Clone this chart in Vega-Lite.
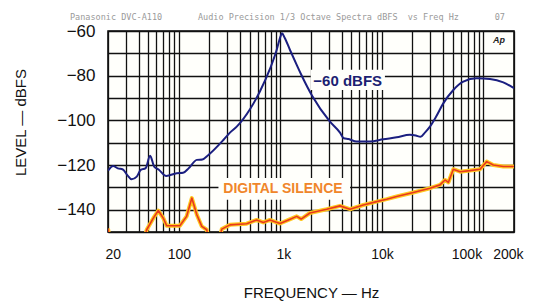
{
  "$schema": "https://vega.github.io/schema/vega-lite/v6.json",
  "width": 406,
  "height": 201,
  "autosize": {"type": "none"},
  "padding": {"left": 108, "top": 31, "right": 19, "bottom": 71},
  "background": "#ffffff",
  "title": {
    "text": "Panasonic DVC-A110\u00a0\u00a0\u00a0\u00a0\u00a0\u00a0\u00a0Audio Precision 1/3 Octave Spectra dBFS\u00a0\u00a0vs Freq Hz\u00a0\u00a0\u00a0\u00a0\u00a0\u00a0\u00a007",
    "anchor": "start",
    "frame": "group",
    "dx": -38,
    "dy": 10,
    "offset": 11,
    "font": "DejaVu Sans Mono",
    "fontSize": 8.5,
    "fontWeight": "normal",
    "color": "#9a9a9a"
  },
  "config": {
    "font": "Liberation Sans",
    "view": {"stroke": "#000000", "strokeWidth": 1.5, "fill": "#fffffb"}
  },
  "datasets": {
    "level": [
      {"f": 20, "v": -122.5}, {"f": 22.5, "v": -120.4}, {"f": 25, "v": -121.5}, {"f": 28, "v": -122}, {"f": 31, "v": -124.5},
      {"f": 34.2, "v": -126.4}, {"f": 38.4, "v": -125.2}, {"f": 42, "v": -122.2}, {"f": 47, "v": -121.4}, {"f": 52, "v": -115.9},
      {"f": 57, "v": -120.7}, {"f": 63, "v": -122}, {"f": 75, "v": -124.9}, {"f": 95, "v": -123.7}, {"f": 110, "v": -123.5},
      {"f": 125, "v": -121.4}, {"f": 150, "v": -117.7}, {"f": 170, "v": -117.5}, {"f": 195, "v": -115.5}, {"f": 274, "v": -108.8},
      {"f": 318, "v": -105.5}, {"f": 371, "v": -102.8}, {"f": 501, "v": -95}, {"f": 629, "v": -87}, {"f": 788, "v": -77},
      {"f": 918, "v": -68.5}, {"f": 1000, "v": -62.5}, {"f": 1035, "v": -61}, {"f": 1100, "v": -63}, {"f": 1242, "v": -68.5},
      {"f": 1446, "v": -75.2}, {"f": 1600, "v": -79.5}, {"f": 2050, "v": -89}, {"f": 3076, "v": -100.6}, {"f": 3862, "v": -105.5},
      {"f": 4200, "v": -108}, {"f": 4700, "v": -108.4}, {"f": 5634, "v": -109.5}, {"f": 7620, "v": -109.5}, {"f": 10300, "v": -108.5},
      {"f": 13960, "v": -107.6}, {"f": 18880, "v": -106.5}, {"f": 21500, "v": -106.8}, {"f": 24000, "v": -107.4}, {"f": 26500, "v": -105.5},
      {"f": 29700, "v": -102.8}, {"f": 34000, "v": -98.5}, {"f": 40200, "v": -92.4}, {"f": 50500, "v": -86.4}, {"f": 63300, "v": -82.7},
      {"f": 85700, "v": -81.2}, {"f": 116000, "v": -81.5}, {"f": 157000, "v": -83}, {"f": 200000, "v": -85.6}
    ],
    "silence": [
      {"f": 20, "v": -148.5}, {"f": 21.3, "v": -156}, {"f": 44, "v": -156}, {"f": 48.1, "v": -149}, {"f": 55.9, "v": -143.8},
      {"f": 62.6, "v": -140.4}, {"f": 70.1, "v": -143.8}, {"f": 75.7, "v": -147.2}, {"f": 102, "v": -147.2}, {"f": 119, "v": -143},
      {"f": 134, "v": -134.8}, {"f": 150, "v": -142.3}, {"f": 168, "v": -147.5}, {"f": 188, "v": -149}, {"f": 200, "v": -156},
      {"f": 243, "v": -156}, {"f": 264, "v": -148.7}, {"f": 318, "v": -146.8}, {"f": 465, "v": -146.3}, {"f": 583, "v": -144.6},
      {"f": 678, "v": -145.7}, {"f": 788, "v": -144.6}, {"f": 990, "v": -146.2}, {"f": 1200, "v": -144.6}, {"f": 1446, "v": -143},
      {"f": 1600, "v": -144.2}, {"f": 1950, "v": -141.5}, {"f": 2856, "v": -139.8}, {"f": 3862, "v": -138.3}, {"f": 4843, "v": -139.8},
      {"f": 6547, "v": -137.9}, {"f": 8876, "v": -136.4}, {"f": 11140, "v": -135.3}, {"f": 13960, "v": -134.1}, {"f": 20400, "v": -132.3},
      {"f": 29700, "v": -130.4}, {"f": 37300, "v": -128.9}, {"f": 41800, "v": -126.7}, {"f": 45100, "v": -127.8}, {"f": 50500, "v": -121.9},
      {"f": 58800, "v": -123}, {"f": 73800, "v": -122.5}, {"f": 92500, "v": -121.9}, {"f": 107700, "v": -118.5}, {"f": 125000, "v": -120},
      {"f": 157000, "v": -120.7}, {"f": 200000, "v": -120.7}
    ],
    "one": [{}]
  },
  "layer": [
    {
      "data": {"name": "level"},
      "mark": {"type": "line", "color": "#1b1f80", "strokeWidth": 2, "interpolate": "monotone", "clip": true},
      "encoding": {
        "x": {
          "field": "f", "type": "quantitative",
          "scale": {"type": "log", "domain": [20, 200000], "nice": false},
          "axis": {
            "values": [20, 30, 40, 50, 60, 70, 80, 90, 100, 200, 300, 400, 500, 600, 700, 800, 900, 1000, 2000, 3000, 4000, 5000, 6000, 7000, 8000, 9000, 10000, 20000, 30000, 40000, 50000, 60000, 70000, 80000, 90000, 100000, 200000],
            "labelExpr": "datum.value == 20 ? '20' : datum.value == 100 ? '100' : datum.value == 1000 ? '1k' : datum.value == 10000 ? '10k' : datum.value == 100000 ? '100k' : datum.value == 200000 ? '200k' : ''",
            "title": "FREQUENCY — Hz",
            "grid": true, "gridColor": "#111111", "gridWidth": 1.3, "gridOpacity": 1,
            "ticks": false, "tickSize": 0, "domain": false,
            "labelFlush": true, "labelOverlap": false,
            "labelOffset": {"condition": [{"test": "datum.value == 100000", "value": -17}, {"test": "datum.value == 200000", "value": 9}, {"test": "datum.value == 20", "value": -3}, {"test": "datum.value == 1000", "value": 3}], "value": 0},
            "labelFontSize": 14, "labelColor": "#111111", "labelPadding": 15,
            "titleFontSize": 15, "titleFontWeight": "normal", "titleColor": "#111111",
            "titleBaseline": "alphabetic", "titleY": 65
          }
        },
        "y": {
          "field": "v", "type": "quantitative",
          "scale": {"domain": [-150, -60], "nice": false, "zero": false},
          "axis": {
            "tickCount": 9,
            "format": "d",
            "labelColor": {"condition": {"test": "datum.value % 20 != 0", "value": "transparent"}, "value": "#111111"},
            "title": "LEVEL — dBFS",
            "grid": true, "gridColor": "#111111", "gridWidth": 1.3, "gridOpacity": 1,
            "ticks": false, "tickSize": 0, "domain": false,
            "labelFontSize": 17, "labelPadding": 13, "labelOverlap": false, "labelFlush": false,
            "titleFontSize": 15, "titleFontWeight": "normal", "titleColor": "#111111",
            "titleAngle": -90, "titleBaseline": "middle", "titleX": -88, "titleY": 91
          }
        }
      }
    },
    {
      "data": {"name": "one"},
      "mark": {"type": "rect", "fill": "#fffffb"},
      "encoding": {
        "x": {"datum": 1990, "type": "quantitative"},
        "x2": {"datum": 10700},
        "y": {"datum": -77.4, "type": "quantitative"},
        "y2": {"datum": -86.4}
      }
    },
    {
      "data": {"name": "one"},
      "mark": {"type": "rect", "fill": "#fffffb"},
      "encoding": {
        "x": {"datum": 245, "type": "quantitative"},
        "x2": {"datum": 4850},
        "y": {"datum": -125.8, "type": "quantitative"},
        "y2": {"datum": -135.6}
      }
    },
    {
      "data": {"name": "silence"},
      "mark": {"type": "line", "color": "#ffc820", "strokeWidth": 4, "clip": true, "strokeJoin": "round"},
      "encoding": {"x": {"field": "f", "type": "quantitative"}, "y": {"field": "v", "type": "quantitative"}}
    },
    {
      "data": {"name": "silence"},
      "mark": {"type": "line", "color": "#e8381e", "strokeWidth": 1.6, "clip": true, "strokeJoin": "round"},
      "encoding": {"x": {"field": "f", "type": "quantitative"}, "y": {"field": "v", "type": "quantitative"}}
    },
    {
      "data": {"name": "one"},
      "mark": {"type": "text", "text": "\u221260 dBFS", "font": "Liberation Sans", "fontSize": 15, "fontWeight": "bold", "color": "#1c1f72", "align": "center", "baseline": "middle"},
      "encoding": {
        "x": {"datum": 4600, "type": "quantitative"},
        "y": {"datum": -82.2, "type": "quantitative"}
      }
    },
    {
      "data": {"name": "one"},
      "mark": {"type": "text", "text": "DIGITAL SILENCE", "font": "Liberation Sans", "fontSize": 14, "fontWeight": "bold", "color": "#f0862a", "align": "center", "baseline": "middle"},
      "encoding": {
        "x": {"datum": 1060, "type": "quantitative"},
        "y": {"datum": -130.6, "type": "quantitative"}
      }
    },
    {
      "data": {"name": "one"},
      "mark": {"type": "text", "text": "Ap", "font": "Liberation Sans", "fontSize": 9, "fontWeight": "bold", "fontStyle": "italic", "color": "#222222", "align": "center", "baseline": "middle"},
      "encoding": {
        "x": {"datum": 142000, "type": "quantitative"},
        "y": {"datum": -64, "type": "quantitative"}
      }
    }
  ]
}
